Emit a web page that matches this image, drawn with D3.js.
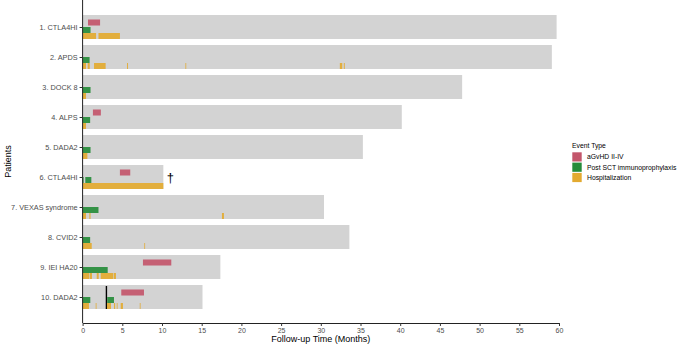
<!DOCTYPE html>
<html>
<head>
<meta charset="utf-8">
<script src="https://cdn.jsdelivr.net/npm/d3@7"></script>
<style>
  body { margin: 0; background: #fff; }
  svg { font-family: "Liberation Sans", Arial, sans-serif; }
</style>
</head>
<body>
<div id="chart"></div>
<script>
  // Patients and their total follow-up (months).
  var patients = ["1. CTLA4HI", "2. APDS", "3. DOCK 8", "4. ALPS", "5. DADA2",
                  "6. CTLA4HI", "7. VEXAS syndrome", "8. CVID2", "9. IEI HA20", "10. DADA2"];
  var followUp = [59.7, 59.1, 47.8, 40.2, 35.3, 10.17, 30.4, 33.6, 17.35, 15.1];

  // Events: [patient index, start month, end month]
  var gvhdEvents = [
    [0, 0.68, 2.2], [3, 1.3, 2.3], [5, 4.7, 6.0], [8, 7.6, 11.17], [9, 4.87, 7.73]
  ];
  var prophylaxisEvents = [
    [0, 0, 1.0], [1, 0, 0.88], [2, 0, 1.0], [3, 0, 0.95], [4, 0, 1.0],
    [5, 0, 0.13], [5, 0.34, 1.1], [6, 0, 2.0], [7, 0, 0.95], [8, 0, 3.16],
    [9, 0, 0.97], [9, 3.1, 3.95]
  ];
  var hospitalEvents = [
    [0, 0, 1.7], [0, 2.0, 4.7],
    [1, 0, 0.43], [1, 0.64, 0.9], [1, 1.44, 2.9], [1, 5.6, 5.72], [1, 12.95, 13.05],
    [1, 32.4, 32.7], [1, 32.9, 33.02],
    [2, 0, 0.43],
    [3, 0, 0.43],
    [4, 0, 0.6],
    [5, 0, 10.17],
    [6, 0, 0.43], [6, 0.85, 1.0], [6, 17.55, 17.8],
    [7, 0, 1.15], [7, 7.77, 7.87],
    [8, 0, 0.85], [8, 0.93, 1.18], [8, 1.78, 2.03], [8, 2.28, 3.87], [8, 3.95, 4.2],
    [9, 0, 0.8], [9, 1.65, 1.75], [9, 3.07, 3.58], [9, 3.95, 4.1], [9, 4.3, 4.4],
    [9, 4.8, 5.08], [9, 7.2, 7.26]
  ];
  var deceased = [5];          // patient index with dagger
  var markerEvents = [[9, 3.0]]; // black vertical marker

  var xTicks = d3.range(0, 61, 5);
  var legendLabels = ["aGvHD II-IV", "Post SCT immunoprophylaxis", "Hospitalization"];
  var colors = { gvhd: "#C3566B", proph: "#268C3A", hosp: "#E3AA30" };

  var width = 677, height = 345;
  var font = "'Liberation Sans', Arial, sans-serif";
  var svg = d3.select("#chart").append("svg")
      .attr("width", width)
      .attr("height", height);

  var x = d3.scaleLinear().domain([0, 60]).range([82.6, 559]);
  var y = d3.scalePoint().domain(patients).range([27, 297]);
  var axisY = 323;

  var bandH = 24;

  // Background follow-up bars.
  svg.append("g").selectAll("rect")
      .data(patients)
      .enter().append("rect")
        .attr("x", x(0))
        .attr("y", function(d){ return y(d) - bandH / 2; })
        .attr("width", function(d, i){ return x(followUp[i]) - x(0); })
        .attr("height", bandH)
        .style("fill", "#d3d3d3");

  var drawEvents = function(data, offset, color) {
    svg.append("g").selectAll("rect")
        .data(data)
        .enter().append("rect")
          .attr("x", function(d){ return x(d[1]); })
          .attr("y", function(d){ return y(patients[d[0]]) + offset; })
          .attr("width", function(d){ return Math.max(0.8, x(d[2]) - x(d[1])); })
          .attr("height", 6)
          .style("fill", color)
          .style("opacity", 0.92);
  };

  // Marker line goes under the bars.
  svg.append("g").selectAll("line")
      .data(markerEvents)
      .enter().append("line")
        .attr("x1", function(d){ return x(d[1]); })
        .attr("x2", function(d){ return x(d[1]); })
        .attr("y1", function(d){ return y(patients[d[0]]) - 11; })
        .attr("y2", function(d){ return y(patients[d[0]]) + 12; })
        .style("stroke", "#000")
        .style("stroke-width", 1.4);

  drawEvents(gvhdEvents, -7.5, colors.gvhd);
  drawEvents(prophylaxisEvents, 0, colors.proph);
  drawEvents(hospitalEvents, 6, colors.hosp);

  // Dagger for deceased.
  svg.append("g").selectAll("text")
      .data(deceased)
      .enter().append("text")
        .attr("x", function(d){ return x(followUp[d]) + 3.5; })
        .attr("y", function(d){ return y(patients[d]) + 4.5; })
        .style("font-size", "13px")
        .style("font-family", font)
        .style("fill", "#000")
        .text("\u2020");

  // X axis.
  var xAxis = svg.append("g")
      .attr("transform", "translate(0," + axisY + ")")
      .call(d3.axisBottom(x).tickValues(xTicks).tickSize(3).tickPadding(2).tickSizeOuter(0));
  xAxis.select(".domain").attr("stroke", "#222").attr("stroke-width", 1);
  xAxis.selectAll(".tick line").attr("stroke", "#333");
  xAxis.selectAll("text").style("font-size", "7px").style("fill", "#4d4d4d")
      .style("font-family", font);

  // Y axis.
  var yAxis = svg.append("g")
      .attr("transform", "translate(" + x(0) + ",0)")
      .call(d3.axisLeft(y).tickSize(3).tickPadding(2).tickSizeOuter(0));
  yAxis.select(".domain").attr("d", "M0,0V" + axisY).attr("stroke", "#222").attr("stroke-width", 1);
  yAxis.selectAll(".tick line").attr("stroke", "#333");
  yAxis.selectAll("text").style("font-size", "7.3px").style("fill", "#4d4d4d")
      .style("font-family", font);

  // Axis titles.
  svg.append("text")
      .attr("x", (x(0) + x(60)) / 2)
      .attr("y", 342)
      .attr("text-anchor", "middle")
      .style("font-size", "9px")
      .style("font-family", font)
      .style("fill", "#000")
      .text("Follow-up Time (Months)");

  svg.append("text")
      .attr("transform", "translate(11," + (axisY / 2) + ") rotate(-90)")
      .attr("text-anchor", "middle")
      .style("font-size", "9px")
      .style("font-family", font)
      .style("fill", "#000")
      .text("Patients");

  // Legend.
  var legend = svg.append("g").attr("transform", "translate(572,0)");
  legend.append("text")
      .attr("x", 0)
      .attr("y", 147.5)
      .style("font-size", "6.8px")
      .style("font-family", font)
      .style("fill", "#000")
      .text("Event Type");
  var legendColors = [colors.gvhd, colors.proph, colors.hosp];
  legendLabels.forEach(function(lab, i) {
    legend.append("rect")
        .attr("x", 0.3)
        .attr("y", 152.3 + i * 10.3)
        .attr("width", 9.4)
        .attr("height", 9.2)
        .style("fill", legendColors[i]);
    legend.append("text")
        .attr("x", 15)
        .attr("y", 152.3 + i * 10.3 + 7.1)
        .style("font-size", "6.8px")
        .style("font-family", font)
        .style("fill", "#000")
        .text(lab);
  });
</script>
</body>
</html>
